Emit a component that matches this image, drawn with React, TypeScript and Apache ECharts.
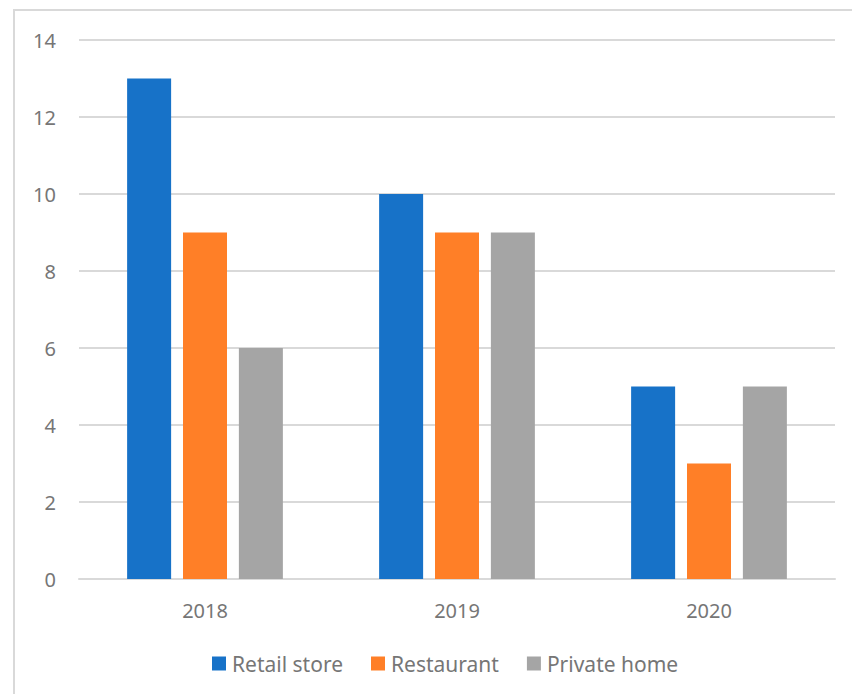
import React, { useEffect, useRef } from "react";
import * as echarts from "echarts";

const categories = ["2018", "2019", "2020"];
const retailStore = [13, 10, 5];
const restaurant = [9, 9, 3];
const privateHome = [6, 9, 5];
const seriesNames = ["Retail store", "Restaurant", "Private home"];
const colors = ["#1772C8", "#FF7F27", "#A5A5A5"];

export default function App() {
  const ref = useRef<HTMLDivElement>(null);
  useEffect(() => {
    if (!ref.current) return;
    const chart = echarts.init(ref.current, null, { renderer: "svg" });
    const font = "'Noto Sans', 'Open Sans', sans-serif";
    const textColor = "#767676";
    const values = [retailStore, restaurant, privateHome];
    chart.setOption({
      animation: false,
      color: colors,
      textStyle: { fontFamily: font },
      graphic: [
        {
          type: "rect",
          shape: { x: 14, y: 10, width: 900, height: 800 },
          style: { fill: "none", stroke: "#d9d9d9", lineWidth: 2 },
          silent: true,
        },
      ],
      grid: { left: 79, right: 17, top: 40, bottom: 115 },
      legend: {
        top: 653,
        left: 212,
        itemWidth: 14,
        itemHeight: 14,
        itemGap: 28,
        padding: 0,
        icon: "rect",
        textStyle: { fontSize: 21, color: textColor, fontFamily: font, padding: [0, 0, 0, 1] },
        data: seriesNames,
      },
      xAxis: {
        type: "category",
        data: categories,
        axisLine: { lineStyle: { color: "#d9d9d9", width: 2 } },
        axisTick: { show: false },
        axisLabel: { fontSize: 20, color: textColor, margin: 21, fontFamily: font },
      },
      yAxis: {
        type: "value",
        min: 0,
        max: 14,
        interval: 2,
        axisLine: { show: false },
        axisTick: { show: false },
        splitLine: { lineStyle: { color: "#d9d9d9", width: 2 } },
        axisLabel: { fontSize: 20, color: textColor, margin: 23, fontFamily: font },
      },
      series: seriesNames.map((name, i) => ({
        name,
        type: "bar",
        data: values[i],
        barWidth: 44,
        barGap: "27%",
        itemStyle: { color: colors[i] },
      })),
    });
    return () => chart.dispose();
  }, []);
  return (
    <div
      ref={ref}
      style={{ position: "absolute", left: 0, top: 0, width: 852, height: 694 }}
    />
  );
}
